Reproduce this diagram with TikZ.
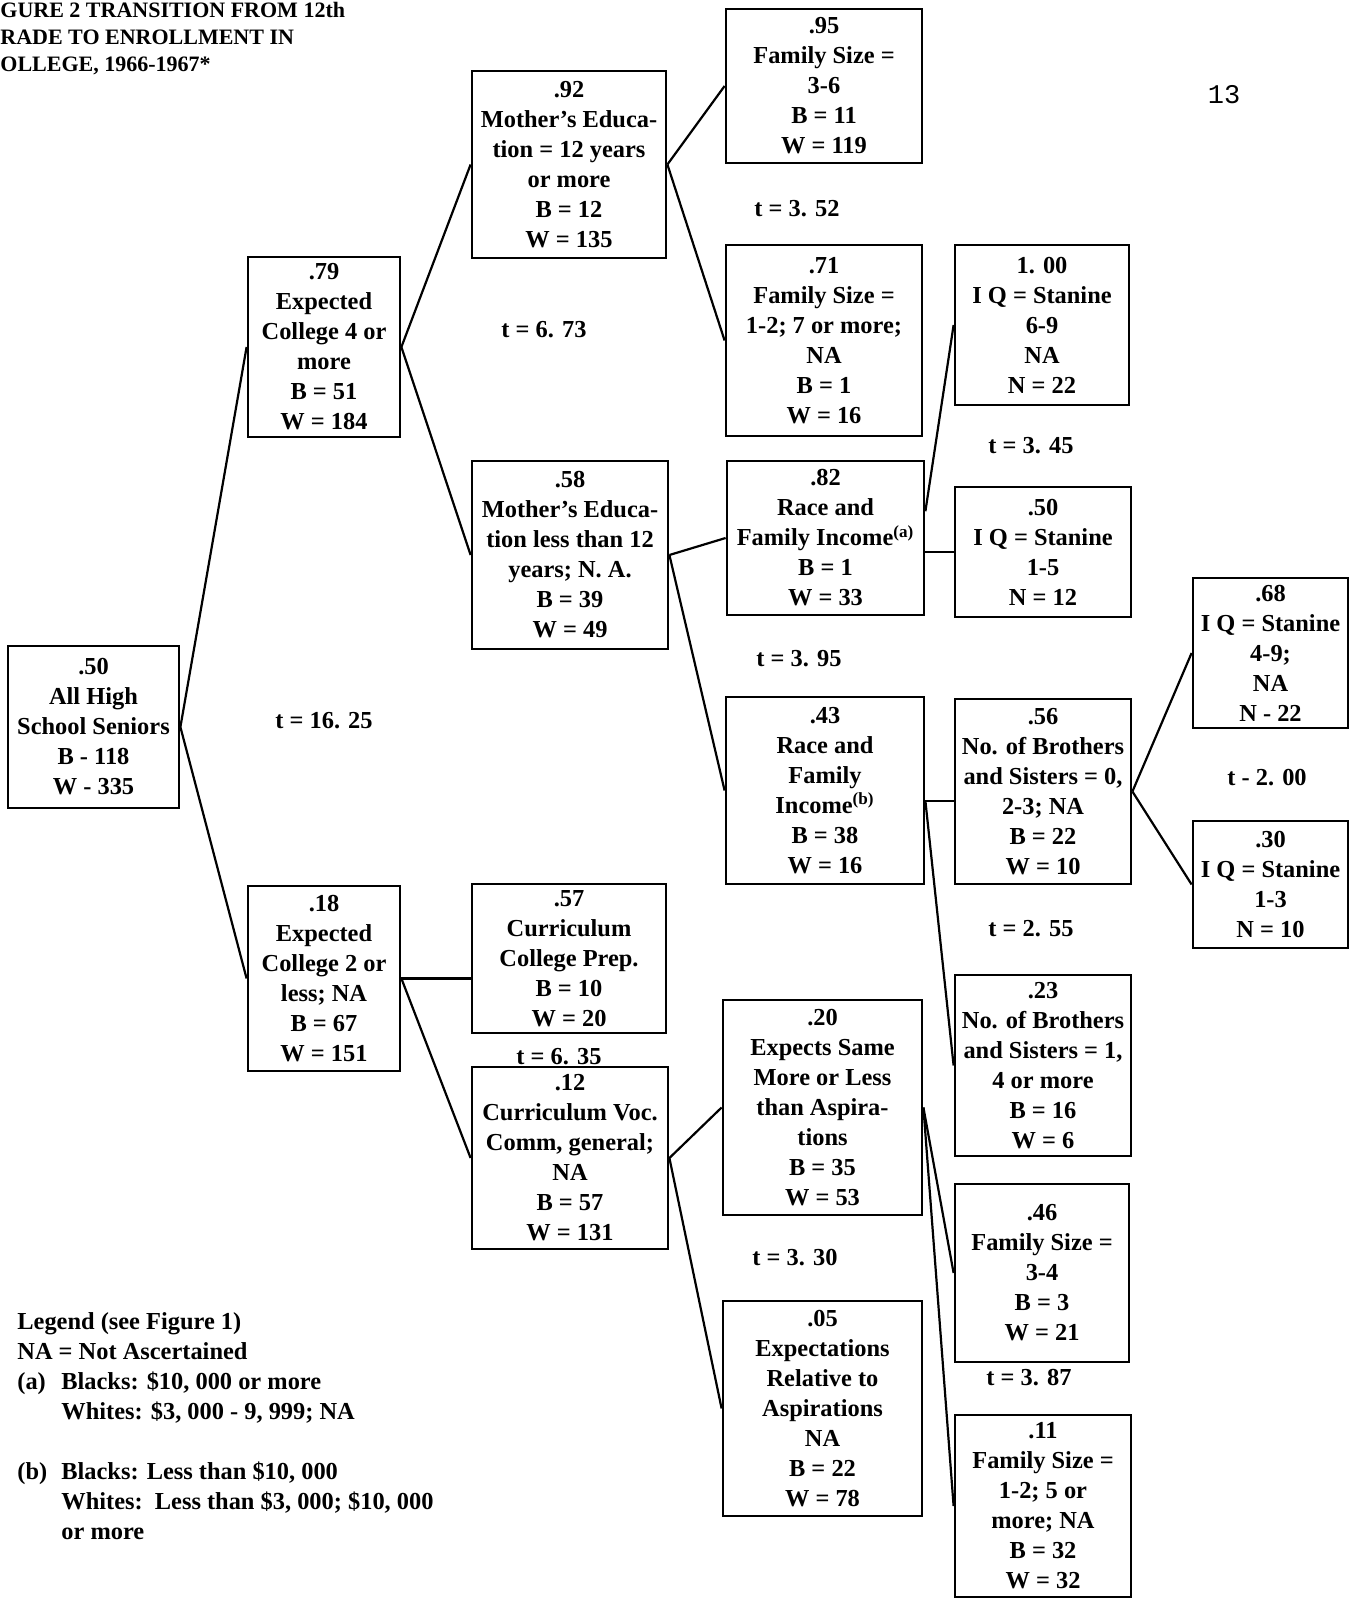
\documentclass[tikz,border=0pt]{standalone}
\usepackage{fontspec}
\setmainfont{Liberation Serif}
\newfontfamily\pagenumfont{Liberation Mono}
\begin{document}
\begin{tikzpicture}[x=0.5pt,y=-0.5pt,
    every node/.style={font=\bfseries\fontsize{12.2}{15}\selectfont},
    box/.style={draw,line width=1.4pt,align=center,inner sep=1pt},
    boxsize/.style 2 args={minimum width=#1pt,minimum height=#2pt},
    link/.style={line width=1.1pt}]
  \useasboundingbox (0,0) rectangle (1351,1600);

  \node[anchor=north west,align=left,inner sep=0pt,font=\bfseries\fontsize{11}{13.5}\selectfont] (title) at (0,2)
    {GURE 2 TRANSITION FROM 12th\\RADE TO ENROLLMENT IN\\OLLEGE, 1966-1967*};
  \node[font=\pagenumfont\fontsize{13.5}{15}\selectfont] (pagenum) at (1224,95) {13};

  \node[box,boxsize={85.5}{81}] (root) at (93.5,727) {.50\\All High\\School Seniors\\B - 118\\W - 335};
  \node[box,boxsize={76}{90}] (exp4) at (324,347) {.79\\Expected\\College 4 or\\more\\B = 51\\W = 184};
  \node[box,boxsize={76}{92.5}] (exp2) at (324,978.5) {.18\\Expected\\College 2 or\\less; NA\\B = 67\\W = 151};
  \node[box,boxsize={97}{93.5}] (mom12) at (569,164.5) {.92\\Mother's Educa-\\tion = 12 years\\or more\\B = 12\\W = 135};
  \node[box,boxsize={98}{94}] (momlt) at (570,555) {.58\\Mother's Educa-\\tion less than 12\\years; N. A.\\B = 39\\W = 49};
  \node[box,boxsize={97}{74.5}] (curprep) at (569,958.5) {.57\\Curriculum\\College Prep.\\B = 10\\W = 20};
  \node[box,boxsize={98}{91}] (curvoc) at (570,1158) {.12\\Curriculum Voc.\\Comm, general;\\NA\\B = 57\\W = 131};
  \node[box,boxsize={98}{77}] (fam36) at (824,86) {.95\\Family Size =\\3-6\\B = 11\\W = 119};
  \node[box,boxsize={98}{95.5}] (fam127) at (824,340.5) {.71\\Family Size =\\1-2; 7 or more;\\NA\\B = 1\\W = 16};
  \node[box,boxsize={98.5}{77}] (racea) at (825.5,538) {.82\\Race and\\Family Income\textsuperscript{(a)}\\B = 1\\W = 33};
  \node[box,boxsize={99}{93.5}] (raceb) at (825,790.5) {.43\\Race and\\Family\\Income\textsuperscript{(b)}\\B = 38\\W = 16};
  \node[box,boxsize={99.5}{107.5}] (expsame) at (822.5,1107.5) {.20\\Expects Same\\More or Less\\than Aspira-\\tions\\B = 35\\W = 53};
  \node[box,boxsize={99.5}{107.5}] (exprel) at (822.5,1408.5) {.05\\Expectations\\Relative to\\Aspirations\\NA\\B = 22\\W = 78};
  \node[box,boxsize={87}{80}] (iq69) at (1042,325) {1. 00\\I Q = Stanine\\6-9\\NA\\N = 22};
  \node[box,boxsize={88}{65}] (iq15) at (1043,552) {.50\\I Q = Stanine\\1-5\\N = 12};
  \node[box,boxsize={88}{92.5}] (bro0) at (1043,791.5) {.56\\No. of Brothers\\and Sisters = 0,\\2-3; NA\\B = 22\\W = 10};
  \node[box,boxsize={88}{90.5}] (bro1) at (1043,1065.5) {.23\\No. of Brothers\\and Sisters = 1,\\4 or more\\B = 16\\W = 6};
  \node[box,boxsize={87}{89}] (fam34) at (1042,1273) {.46\\Family Size =\\3-4\\B = 3\\W = 21};
  \node[box,boxsize={88}{91}] (fam125) at (1043,1506) {.11\\Family Size =\\1-2; 5 or\\more; NA\\B = 32\\W = 32};
  \node[box,boxsize={77.5}{75}] (iq49) at (1270.5,653) {.68\\I Q = Stanine\\4-9;\\NA\\N - 22};
  \node[box,boxsize={77.5}{63.5}] (iq13) at (1270.5,884.5) {.30\\I Q = Stanine\\1-3\\N = 10};

  \node (t1625) at (324,721) {t = 16. 25};
  \node (t673) at (544,330) {t = 6. 73};
  \node (t352) at (797,209) {t = 3. 52};
  \node (t345) at (1031,446) {t = 3. 45};
  \node (t395) at (799,659) {t = 3. 95};
  \node (t200) at (1267,778) {t - 2. 00};
  \node (t255) at (1031,929) {t = 2. 55};
  \node (t635) at (559,1057) {t = 6. 35};
  \node (t330) at (795,1258) {t = 3. 30};
  \node (t387) at (1029,1378) {t = 3. 87};

  \draw[link] (root.east) -- (exp4.west);
  \draw[link] (root.east) -- (exp2.west);
  \draw[link] (exp4.east) -- (mom12.west);
  \draw[link] (exp4.east) -- (momlt.west);
  \draw[link] (mom12.east) -- (fam36.west);
  \draw[link] (mom12.east) -- (fam127.west);
  \draw[link] (momlt.east) -- (racea.west);
  \draw[link] (momlt.east) -- (raceb.west);
  \draw[link] (racea.15) -- (iq69.west);
  \draw[link] (iq15.west -| racea.east) -- (iq15.west);
  \draw[link] (raceb.-6) -- (raceb.-6 -| bro0.west);
  \draw[link] (raceb.-6) -- (bro1.west);
  \draw[link] (bro0.east) -- (iq49.west);
  \draw[link] (bro0.east) -- (iq13.west);
  \draw[link] (exp2.east) -- (exp2.east -| curprep.west);
  \draw[link] (exp2.east) -- (curvoc.west);
  \draw[link] (curvoc.east) -- (expsame.west);
  \draw[link] (curvoc.east) -- (exprel.west);
  \draw[link] (expsame.east) -- (fam34.west);
  \draw[link] (expsame.east) -- (fam125.west);

  \node[anchor=north west,align=left,inner sep=0pt] (legend) at (17,1312)
    {Legend (see Figure 1)\\NA = Not Ascertained\\
     \makebox[22pt][l]{(a)}Blacks: \$10, 000 or more\\
     \hspace*{22pt}Whites: \$3, 000 - 9, 999; NA\\[15pt]
     \makebox[22pt][l]{(b)}Blacks: Less than \$10, 000\\
     \hspace*{22pt}Whites:\ \ Less than \$3, 000; \$10, 000\\
     \hspace*{22pt}or more};
\end{tikzpicture}
\end{document}
